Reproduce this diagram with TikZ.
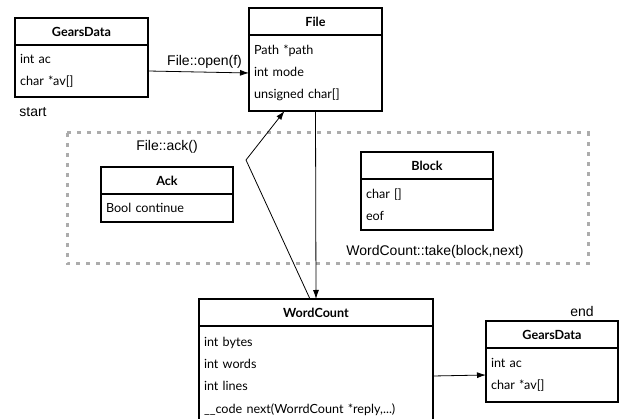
\documentclass[tikz,border=0pt]{standalone}
\usepackage{fontspec}
\setmainfont{Lato}
\newfontfamily\labelfont{Liberation Sans}
\usetikzlibrary{positioning,arrows.meta}
\newcommand{\boxFont}[0]{\fontsize{12.6}{22.3}\selectfont}
\newcommand{\labelFont}[0]{\labelfont\fontsize{14}{16}\selectfont}
\begin{document}
\begin{tikzpicture}[x=1pt, y=-1pt]
  \tikzset{head/.style={draw, line width=1.6pt, outer sep=0pt, inner sep=0pt,
                        minimum width=133pt, minimum height=27pt,
                        font=\boxFont\bfseries},
           body/.style={draw, line width=1.6pt, outer sep=0pt, inner sep=5pt,
                        minimum width=133pt, text width=123pt, align=left,
                        font=\boxFont},
           call/.style={font=\labelFont},
           flow/.style={-{Latex[length=9pt,width=6pt]}, line width=0.8pt}}
  \useasboundingbox (0,0) rectangle (622,419);
  \clip (0,0) rectangle (622,419);
  \draw[gray!65, line width=3pt, dash pattern=on 4pt off 6pt]
        (67,133) rectangle (588,264);
  \node[head, anchor=north west] (gears) at (15,18) {GearsData};
  \node[body, below=0pt of gears, minimum height=52pt] (gearsb) {int ac\\char *av[]};
  \node[head, anchor=north west] (file) at (249,8) {File};
  \node[body, below=0pt of file, minimum height=76pt] (fileb)
       {Path *path\\int mode\\unsigned char[]};
  \node[head, anchor=north west, minimum width=132pt] (ack) at (101,167) {Ack};
  \node[body, below=0pt of ack, minimum width=132pt, text width=122pt,
        minimum height=28pt] (ackb) {Bool continue};
  \node[head, anchor=north west, minimum width=132pt] (block) at (361,152) {Block};
  \node[body, below=0pt of block, minimum width=132pt, text width=122pt,
        minimum height=51pt] (blockb) {char []\\eof};
  \node[head, anchor=north west, minimum width=234pt] (wc) at (199,299) {WordCount};
  \node[body, below=0pt of wc, minimum width=234pt, text width=224pt,
        minimum height=100pt] (wcb)
       {int bytes\\int words\\int lines\\\_\_code next(WorrdCount *reply,...)};
  \node[head, anchor=north west, minimum width=132pt] (gearsend) at (486,321) {GearsData};
  \node[body, below=0pt of gearsend, minimum width=132pt, text width=122pt,
        minimum height=54pt] (gearsendb) {int ac\\char *av[]};
  \node[call] (start) at (33,112) {start};
  \node[call] (end) at (582,311) {end};
  \node[call] (ackcall) at (167,147) {File::ack()};
  \node[call] (takecall) at (435,252) {WordCount::take(block,next)};
  \coordinate (kink) at (246,160);
  \draw[flow] (gearsb.east) -- node[call, pos=0.56, above] {File::open(f)} (fileb.west);
  \draw[flow] (fileb.south) -- (wc.north);
  \draw[flow] ([xshift=-6pt]wc.north) -- (kink) -- ([xshift=-31pt]fileb.south);
  \draw[flow] (wcb.east) -- (gearsendb.west);
\end{tikzpicture}
\end{document}
